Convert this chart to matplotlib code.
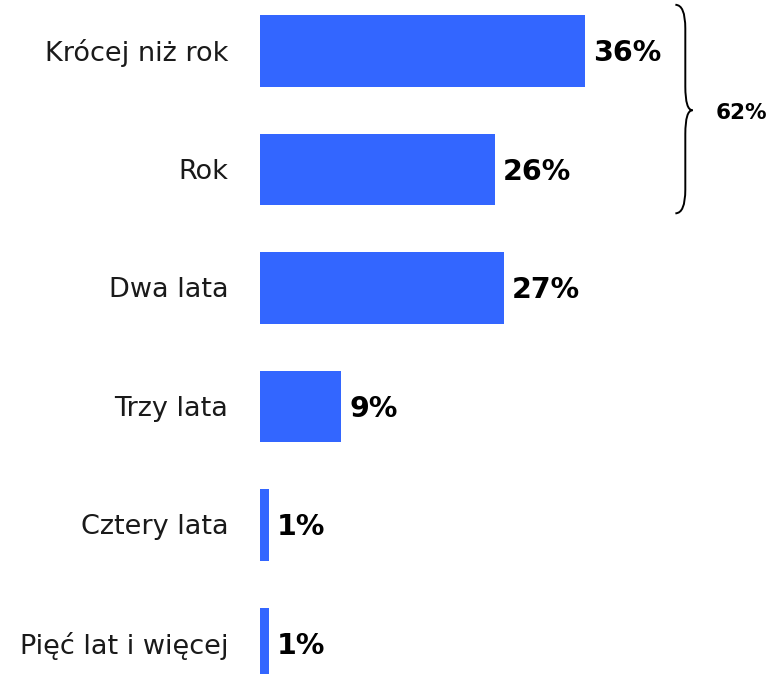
import matplotlib
matplotlib.use("Agg")
import matplotlib.pyplot as plt
from matplotlib.path import Path
from matplotlib.patches import PathPatch

categories = ["Krócej niż rok", "Rok", "Dwa lata", "Trzy lata", "Cztery lata", "Pięć lat i więcej"]
values = [36, 26, 27, 9, 1, 1]
value_labels = ["36%", "26%", "27%", "9%", "1%", "1%"]
group_label = "62%"
group_range = (0, 1)

plt.rcParams['font.family'] = ['DejaVu Sans']
color = "#3366FF"

fig = plt.figure(figsize=(7.69, 6.74), dpi=100)
ax = fig.add_axes([0, 0, 1, 1])

px_per_unit_x = 9.03
x0_px = 260
W, H = 769, 674
spacing = 118.5
c0 = 51

ax.set_xlim(-x0_px / px_per_unit_x, (W - x0_px) / px_per_unit_x)
ax.set_ylim((H - c0) / spacing, -c0 / spacing)

ypos = list(range(len(categories)))
ax.barh(ypos, values, height=0.6, color=color)

dy = 0.02
for y, v, lab, cat in zip(ypos, values, value_labels, categories):
    ax.text(v + 0.9, y + dy, lab, ha='left', va='center', fontsize=20.5, fontweight='bold', color='black')
    ax.text(-3.5, y + dy, cat, ha='right', va='center', fontsize=19.5, color='#1a1a1a')

# brace
ytop = group_range[0] - 0.39
ybot = group_range[1] + 0.37
ymid = (group_range[0] + group_range[1]) / 2
xa, xb, xc = 46.0, 47.1, 47.9
s = 0.2
verts = [
    (xa, ytop), (xb, ytop), (xb, ytop + s),
    (xb, ymid - s),
    (xb, ymid), (xc, ymid),
    (xb, ymid), (xb, ymid + s),
    (xb, ybot - s),
    (xb, ybot), (xa, ybot),
]
codes = [Path.MOVETO, Path.CURVE3, Path.CURVE3,
         Path.LINETO,
         Path.CURVE3, Path.CURVE3,
         Path.CURVE3, Path.CURVE3,
         Path.LINETO,
         Path.CURVE3, Path.CURVE3]
ax.add_patch(PathPatch(Path(verts, codes), fill=False, lw=1.4, edgecolor='black'))
ax.text(50.5, ymid + dy, group_label, ha='left', va='center', fontsize=15.5, fontweight='bold')

ax.axis('off')
fig.savefig("out.png", dpi=100)
